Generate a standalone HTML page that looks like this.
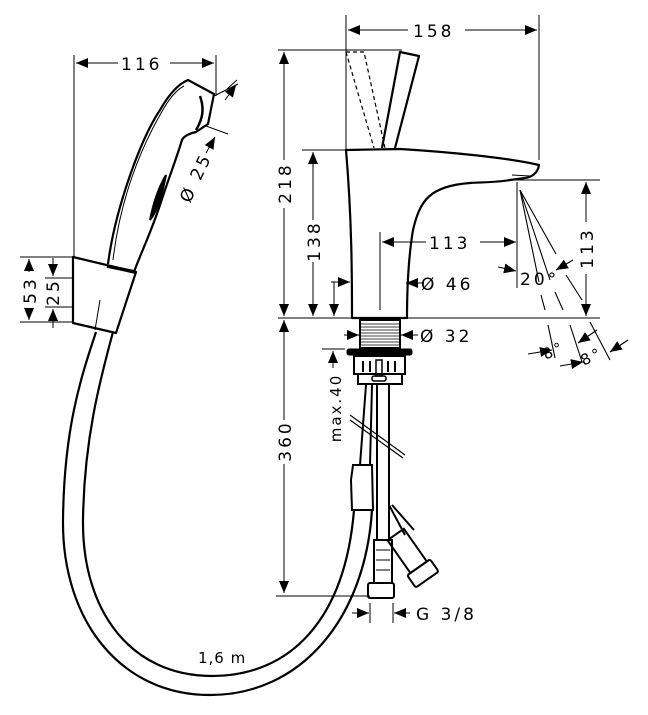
<!DOCTYPE html>
<html><head><meta charset="utf-8"><style>
html,body{margin:0;padding:0;background:#fff;}
svg{display:block;}
text{font-family:"DejaVu Sans","Liberation Sans",sans-serif;font-size:17px;fill:#000;letter-spacing:3px;}
</style></head><body>
<svg width="648" height="715" viewBox="0 0 648 715" xmlns="http://www.w3.org/2000/svg">
<defs>
<marker id="a" viewBox="0 0 12 10" refX="12" refY="5" markerWidth="12" markerHeight="10" orient="auto-start-reverse" markerUnits="userSpaceOnUse"><path d="M0,0L12,5L0,10z" fill="#000"/></marker>
</defs>
<g stroke="#000" fill="none" stroke-width="1">
<!-- ===== hand shower dims ===== -->
<line x1="74" y1="55" x2="74" y2="257"/>
<line x1="216" y1="55" x2="216" y2="96"/>
<line x1="76" y1="63" x2="118" y2="63" marker-start="url(#a)"/>
<line x1="170" y1="63" x2="214" y2="63" marker-end="url(#a)"/>
<line x1="20" y1="257" x2="74" y2="257"/>
<line x1="45" y1="278" x2="74" y2="278"/>
<line x1="45" y1="307" x2="74" y2="307"/>
<line x1="20" y1="322" x2="74" y2="322"/>
<line x1="29" y1="272" x2="29" y2="259" marker-end="url(#a)"/>
<line x1="29" y1="308" x2="29" y2="320" marker-end="url(#a)"/>
<line x1="53" y1="258" x2="53" y2="276" marker-end="url(#a)"/>
<line x1="53" y1="328" x2="53" y2="309" marker-end="url(#a)"/>
<!-- Ø25 dims -->
<line x1="214" y1="96" x2="238" y2="84"/>
<line x1="206" y1="126" x2="228" y2="134"/>
<line x1="236" y1="85" x2="225" y2="100" marker-start="url(#a)"/>
<line x1="215" y1="137" x2="206" y2="153" marker-start="url(#a)"/>
<line x1="227" y1="89" x2="237" y2="80"/>
<!-- hand shower body -->
<g stroke-width="2.2" stroke-linejoin="round">
<path d="M108,264 C115,210 140,140 160,110 C168,96 178,84 188,80 L214,94 L208,124 L196,132 C190,133 184,136 182,140 C176,160 168,180 160,205 C150,235 140,255 134,272"/>
<path d="M73,257 L136,272 L116,333 L73,323 Z"/>
<path d="M107,266 L135,272" stroke-width="3.5"/>
</g>
<path d="M113,260 C120,200 140,150 160,115 C168,100 176,90 184,86" stroke-width="1"/>
<path d="M200,96 C205,110 202,120 196,130" stroke-width="2.5"/>
<path d="M150,220 C154,200 160,185 166,175 C162,195 158,210 150,220 Z" stroke-width="2" fill="#000"/>
<line x1="95" y1="330" x2="100" y2="300" stroke-width="1"/>
<!-- hose -->
<g stroke-width="2.2">
<path d="M96,332 C80,380 64,430 63,520 C62,620 120,695 210,695 C300,695 365,620 372,510"/>
<path d="M113,332 C100,380 84,440 83,520 C82,610 130,676 212,676 C290,676 345,620 354,510"/>
</g>
<!-- ===== faucet dims ===== -->
<line x1="346" y1="15" x2="346" y2="150"/>
<line x1="539" y1="15" x2="539" y2="160"/>
<line x1="348" y1="30" x2="408" y2="30" marker-start="url(#a)"/>
<line x1="465" y1="30" x2="537" y2="30" marker-end="url(#a)"/>
<line x1="278" y1="50" x2="402" y2="50"/>
<line x1="284" y1="52" x2="284" y2="160" marker-start="url(#a)"/>
<line x1="284" y1="208" x2="284" y2="316" marker-end="url(#a)"/>
<line x1="302" y1="150" x2="346" y2="150"/>
<line x1="313" y1="152" x2="313" y2="220" marker-start="url(#a)"/>
<line x1="313" y1="262" x2="313" y2="316" marker-end="url(#a)"/>
<line x1="278" y1="318" x2="600" y2="318"/>
<line x1="334" y1="282" x2="334" y2="316" marker-end="url(#a)"/>
<line x1="331" y1="282" x2="350" y2="282" marker-end="url(#a)"/>
<line x1="380" y1="232" x2="380" y2="310"/>
<line x1="382" y1="242" x2="426" y2="242" marker-start="url(#a)"/>
<line x1="480" y1="242" x2="516" y2="242" marker-end="url(#a)"/>
<line x1="517" y1="182" x2="517" y2="288"/>
<line x1="498" y1="267" x2="516" y2="271" marker-end="url(#a)"/>
<line x1="424" y1="283" x2="406" y2="283" marker-end="url(#a)"/>
<line x1="515" y1="180" x2="600" y2="180"/>
<line x1="586" y1="182" x2="586" y2="222" marker-start="url(#a)"/>
<line x1="586" y1="274" x2="586" y2="316" marker-end="url(#a)"/>
<!-- spray -->
<g stroke-width="1.1">
<line x1="520" y1="190" x2="539" y2="282"/>
<line x1="520" y1="190" x2="550" y2="280"/>
<line x1="520" y1="190" x2="556" y2="254"/>
<line x1="541" y1="295" x2="545" y2="310"/>
<line x1="555" y1="292" x2="563" y2="310"/>
<line x1="566" y1="275" x2="582" y2="300"/>
<line x1="548" y1="325" x2="555" y2="358"/>
<line x1="570" y1="325" x2="582" y2="362"/>
<line x1="590" y1="322" x2="610" y2="360"/>
<line x1="573" y1="260" x2="556" y2="270" marker-end="url(#a)"/>
<line x1="528" y1="354" x2="552" y2="350" marker-end="url(#a)"/>
<line x1="597" y1="330" x2="578" y2="343" marker-end="url(#a)"/>
<line x1="560" y1="366" x2="583" y2="362" marker-end="url(#a)"/>
<line x1="628" y1="340" x2="610" y2="352" marker-end="url(#a)"/>
</g>
<!-- faucet body -->
<g stroke-width="2.2" stroke-linejoin="round">
<path d="M346,150 L400,149 C450,152 510,158 539,165 C538,172 533,177 525,178 L510,180 C500,182 490,182 470,183 C430,186 420,200 413,230 C408,260 407,290 407,318 L352,318 C352,280 352,220 346,150 Z"/>
<path d="M382,148 L400,52 L419,56 L395,148"/>
<path d="M512,175 L530,176" stroke-width="1"/>
</g>
<path d="M346,52 L364,52 L385,148 M346,52 L374,148" stroke-dasharray="4,3" stroke-width="1.2"/>
<!-- threaded stem -->
<rect x="360" y="320" width="40" height="28" stroke-width="2"/>
<g stroke-width="0.8">
<line x1="361" y1="324" x2="399" y2="324"/><line x1="361" y1="327" x2="399" y2="327"/><line x1="361" y1="330" x2="399" y2="330"/><line x1="361" y1="333" x2="399" y2="333"/><line x1="361" y1="336" x2="399" y2="336"/><line x1="361" y1="339" x2="399" y2="339"/><line x1="361" y1="342" x2="399" y2="342"/><line x1="361" y1="345" x2="399" y2="345"/>
</g>
<line x1="344" y1="335" x2="359" y2="335" marker-end="url(#a)"/>
<line x1="418" y1="335" x2="401" y2="335" marker-end="url(#a)"/>
<rect x="347" y="349" width="65" height="6" rx="2" fill="#000"/>
<rect x="354" y="356" width="51" height="18" stroke-width="2"/>
<rect x="358" y="374" width="44" height="10" stroke-width="2"/>
<g stroke-width="2"><line x1="363" y1="361" x2="363" y2="372"/><line x1="370" y1="361" x2="370" y2="372"/><line x1="388" y1="361" x2="388" y2="372"/><line x1="395" y1="361" x2="395" y2="372"/></g>
<rect x="376" y="360" width="6" height="16" stroke-width="1.5"/>
<rect x="372" y="376" width="14" height="5" rx="2" stroke-width="1.5"/>
<!-- max 40 -->
<line x1="322" y1="349" x2="345" y2="349"/>
<line x1="333" y1="368" x2="333" y2="351" marker-end="url(#a)"/>
<!-- 360 -->
<line x1="284" y1="320" x2="284" y2="420" marker-start="url(#a)"/>
<line x1="284" y1="464" x2="284" y2="593" marker-end="url(#a)"/>
<line x1="276" y1="596" x2="370" y2="596"/>
<!-- pipes -->
<g stroke-width="2">
<line x1="366" y1="385" x2="360" y2="465"/>
<line x1="372" y1="385" x2="370" y2="465"/>
<line x1="377" y1="385" x2="377" y2="540"/>
<line x1="389" y1="385" x2="389" y2="540"/>
<path d="M353,465 L372,465 L373,510 L352,510 L351,480 Z"/>
<line x1="389" y1="505" x2="405" y2="535"/>
<line x1="392" y1="505" x2="414" y2="530"/>
<rect x="374" y="540" width="18" height="43"/>
<rect x="368" y="583" width="26" height="15" rx="2"/>
<g transform="rotate(-35 410 555)"><rect x="400" y="530" width="20" height="40"/><rect x="396" y="570" width="28" height="15" rx="2"/></g>
</g>
<g stroke-width="1"><line x1="376" y1="550" x2="390" y2="550"/><line x1="376" y1="560" x2="390" y2="560"/><line x1="376" y1="570" x2="390" y2="570"/></g>
<g stroke-width="1.2"><line x1="350" y1="415" x2="405" y2="455"/><line x1="350" y1="420" x2="403" y2="458"/></g>
<!-- G3/8 -->
<line x1="370" y1="603" x2="370" y2="623"/>
<line x1="393" y1="603" x2="393" y2="623"/>
<line x1="352" y1="613" x2="369" y2="613" marker-end="url(#a)"/>
<line x1="410" y1="613" x2="394" y2="613" marker-end="url(#a)"/>
</g>
<!-- texts -->
<text x="121" y="70">116</text>
<text x="413" y="37">158</text>
<text x="429" y="249">113</text>
<text x="421" y="290">Ø 46</text>
<text x="420" y="342">Ø 32</text>
<text x="520" y="285">20°</text>
<text x="416" y="620">G 3/8</text>
<text x="198" y="663" style="font-size:15px;letter-spacing:1px">1,6 m</text>
<text transform="translate(291,183) rotate(-90)" text-anchor="middle">218</text>
<text transform="translate(320,241) rotate(-90)" text-anchor="middle">138</text>
<text transform="translate(593,248) rotate(-90)" text-anchor="middle">113</text>
<text transform="translate(291,441) rotate(-90)" text-anchor="middle">360</text>
<text transform="translate(341,408) rotate(-90)" text-anchor="middle" style="font-size:15px;letter-spacing:2px">max.40</text>
<text transform="translate(36,290) rotate(-90)" text-anchor="middle">53</text>
<text transform="translate(59,292) rotate(-90)" text-anchor="middle">25</text>
<text transform="translate(201,180) rotate(-65)" text-anchor="middle">Ø 25</text>
<text transform="translate(556,355) rotate(-25)" text-anchor="middle" style="font-size:15px">8°</text>
<text transform="translate(594,361) rotate(-25)" text-anchor="middle" style="font-size:15px">8°</text>
</svg>
</body></html>
